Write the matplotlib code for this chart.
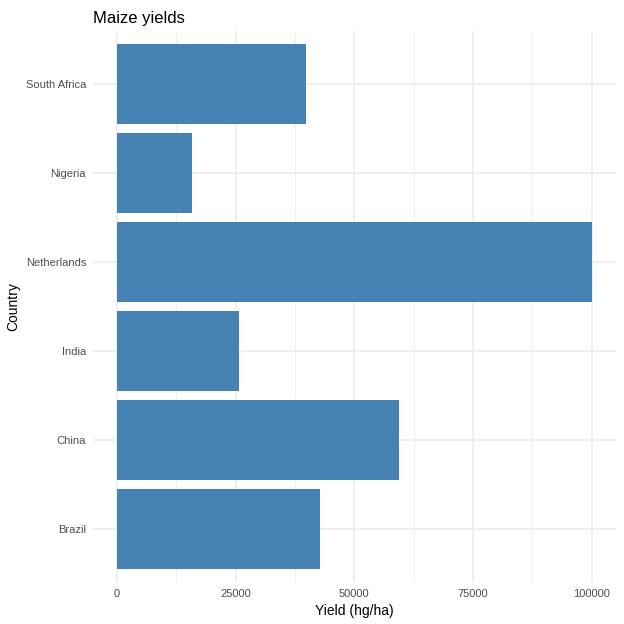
import matplotlib
matplotlib.use("Agg")
import matplotlib.pyplot as plt
from matplotlib.ticker import MultipleLocator

countries = ["Brazil", "China", "India", "Netherlands", "Nigeria", "South Africa"]
yields = [42700, 59400, 25700, 100100, 15800, 39800]
xticks = [0, 25000, 50000, 75000, 100000]

plt.rcParams["font.family"] = ["Liberation Sans", "DejaVu Sans"]

fig = plt.figure(figsize=(6.24, 6.24), dpi=100)
ax = fig.add_axes([93 / 624, 1 - 582 / 624, (616 - 93) / 624, (582 - 31) / 624])

pos = list(range(1, len(countries) + 1))
ax.barh(pos, yields, height=0.9, color="#4682B4", zorder=3)

xmax = max(yields)
ax.set_xlim(-0.05 * xmax, xmax * 1.05)
ax.set_ylim(0.4, len(countries) + 0.6)

ax.set_xticks(xticks)
ax.set_xticklabels([str(t) for t in xticks])
ax.xaxis.set_minor_locator(MultipleLocator(12500))
ax.set_yticks(pos)
ax.set_yticklabels(countries)

ax.grid(True, which="major", color="#EBEBEB", linewidth=1.1, zorder=0)
ax.grid(True, which="minor", axis="x", color="#EBEBEB", linewidth=0.55, zorder=0)
ax.tick_params(which="both", length=0, labelsize=8, labelcolor="#4D4D4D", pad=5)
for s in ax.spines.values():
    s.set_visible(False)

ax.set_xlabel("Yield (hg/ha)", fontsize=10, labelpad=4)
ax.set_ylabel("Country", fontsize=10, labelpad=4)
ax.set_title("Maize yields", fontsize=12, loc="left", pad=6)

fig.savefig("out.png", dpi=100)
